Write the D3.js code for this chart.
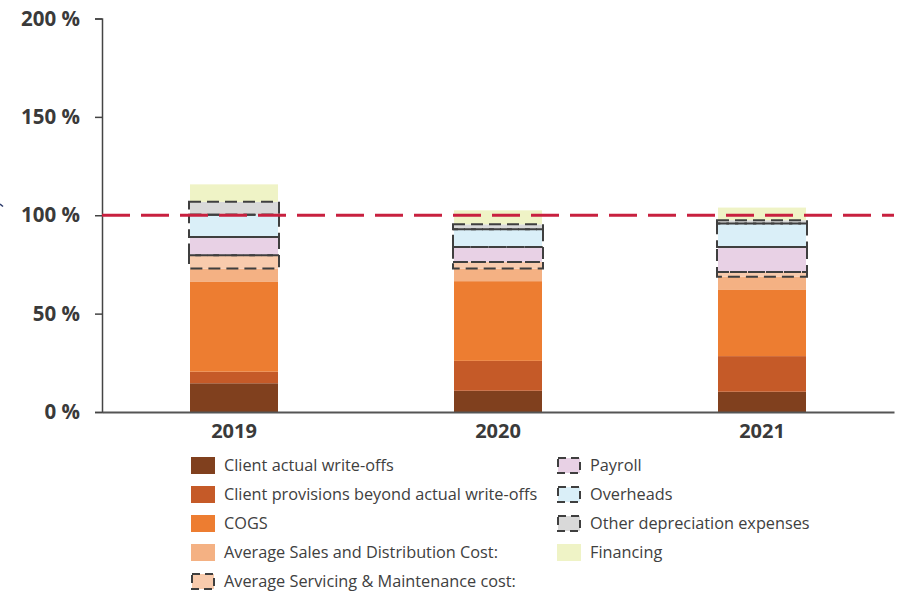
<!DOCTYPE html>
<html>
<head>
<meta charset="utf-8">
<script src="https://cdn.jsdelivr.net/npm/d3@7"></script>
<style>
  html, body { margin: 0; padding: 0; background: #fff; }
  svg { display: block; font-family: "Open Sans", "Noto Sans", sans-serif; }
</style>
</head>
<body>
<svg id="chart" width="897" height="593"></svg>
<script>
// Cost structure as share of revenue, by year
const years = ["2019", "2020", "2021"];

const seriesNames = [
  "Client actual write-offs",
  "Client provisions beyond actual write-offs",
  "COGS",
  "Average Sales and Distribution Cost:",
  "Average Servicing & Maintenance cost:",
  "Payroll",
  "Overheads",
  "Other depreciation expenses",
  "Financing"
];

// values in %, one per year
const writeOffs     = [14.6, 10.8, 10.3];
const provisions    = [5.9, 15.2, 18.1];
const cogs          = [45.6, 40.5, 33.9];
const salesDist     = [6.8, 6.4, 6.4];
const servicing     = [6.8, 3.4, 2.5];
const payroll       = [9.3, 7.6, 12.7];
const overheads     = [11.3, 9.0, 11.9];
const otherDep      = [6.5, 2.5, 1.7];
const financing     = [8.9, 7.1, 6.4];

const yTicks = [0, 50, 100, 150, 200];
const referenceLevel = 100;

const seriesValues = [writeOffs, provisions, cogs, salesDist, servicing, payroll, overheads, otherDep, financing];
const colors = ["#80401e", "#c55a28", "#ed7d31", "#f4b183", "#f8cbad", "#e8d1e5", "#daeff8", "#d9d9d9", "#eff3c6"];
const dashed = [false, false, false, false, true, true, true, true, false];

const svg = d3.select("#chart");

const x = d3.scaleBand()
  .domain(years)
  .range([102, 894])
  .paddingInner(2 / 3)
  .paddingOuter(1 / 3);

const y = d3.scaleLinear().domain([0, 200]).range([412, 18.5]);

// stack table built from the series arrays
const table = years.map((yr, i) => {
  const row = { year: yr };
  seriesNames.forEach((n, k) => { row[n] = seriesValues[k][i]; });
  return row;
});
const stacked = d3.stack().keys(seriesNames)(table);

// bars
const layers = svg.append("g").selectAll("g")
  .data(stacked)
  .join("g")
  .attr("fill", (d, i) => colors[i]);

layers.selectAll("rect")
  .data(d => d)
  .join("rect")
  .attr("x", d => x(d.data.year))
  .attr("width", x.bandwidth())
  .attr("y", d => y(d[1]))
  .attr("height", d => y(d[0]) - y(d[1]));

// dashed outlines on the overhead-type segments
const outlines = svg.append("g")
  .attr("fill", "none")
  .attr("stroke", "#3f3f3f")
  .attr("stroke-width", 2)
  .attr("stroke-dasharray", "12,6");
stacked.forEach((layer, i) => {
  if (!dashed[i]) return;
  outlines.selectAll(null)
    .data(layer)
    .join("rect")
    .attr("x", d => x(d.data.year) - 1)
    .attr("width", x.bandwidth() + 2)
    .attr("y", d => y(d[1]))
    .attr("height", d => y(d[0]) - y(d[1]));
});

// y axis
const yAxis = svg.append("g")
  .attr("transform", "translate(102,0)")
  .call(d3.axisLeft(y).tickValues(yTicks).tickSize(7).tickPadding(15).tickFormat(d => d + " %"));
yAxis.select(".domain").attr("stroke", "#444").attr("stroke-width", 1.5);
yAxis.selectAll(".tick line").attr("stroke", "#444").attr("stroke-width", 1.5);
yAxis.selectAll(".tick text")
  .attr("fill", "#3a3a3a")
  .style("font-family", "'Open Sans', sans-serif")
  .style("font-size", "20.5px")
  .style("font-weight", "bold");

// x axis
const xAxis = svg.append("g")
  .attr("transform", "translate(0,412)")
  .call(d3.axisBottom(x).tickSize(0).tickPadding(12));
xAxis.select(".domain").attr("stroke", "#555").attr("stroke-width", 2);
xAxis.selectAll(".tick text")
  .attr("fill", "#3a3a3a")
  .style("font-family", "'Open Sans', sans-serif")
  .style("font-size", "20px")
  .style("font-weight", "bold");

// 100 % reference line
svg.append("line")
  .attr("x1", 102).attr("x2", 894)
  .attr("y1", y(referenceLevel)).attr("y2", y(referenceLevel))
  .attr("stroke", "#c8203f")
  .attr("stroke-width", 3)
  .attr("stroke-dasharray", "28,11");

// small marker at the left edge
svg.append("path")
  .attr("d", "M0,204 L3,206.5")
  .attr("stroke", "#2b3a6b")
  .attr("stroke-width", 1.5);

// legend
const legendCols = [
  { x: 191, items: [0, 1, 2, 3, 4] },
  { x: 557, items: [5, 6, 7, 8] }
];
const legend = svg.append("g");
legendCols.forEach(col => {
  col.items.forEach((k, r) => {
    const gy = 465.5 + r * 29;
    legend.append("rect")
      .attr("x", col.x + (dashed[k] ? 1 : 0))
      .attr("y", gy - 8.5 + (dashed[k] ? 1 : 0))
      .attr("width", dashed[k] ? 22 : 24)
      .attr("height", dashed[k] ? 15 : 17)
      .attr("fill", colors[k])
      .attr("stroke", dashed[k] ? "#3f3f3f" : "none")
      .attr("stroke-width", 2)
      .attr("stroke-dasharray", dashed[k] ? "8,5" : null);
    legend.append("text")
      .attr("x", col.x + 33)
      .attr("y", gy)
      .attr("dy", "0.35em")
      .attr("fill", "#404040")
      .style("font-size", "16.3px")
      .text(seriesNames[k]);
  });
});
</script>
</body>
</html>
